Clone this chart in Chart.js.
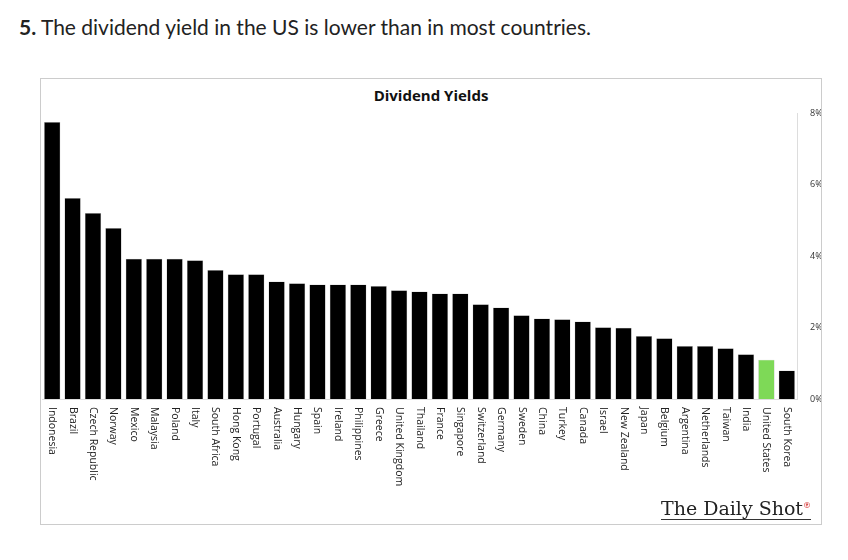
<!DOCTYPE html>
<html>
<head>
<meta charset="utf-8">
<script src="https://cdn.jsdelivr.net/npm/chart.js@4"></script>
<style>
  body { margin: 0; background: #fff; font-family: Lato, "Open Sans", sans-serif; }
  h2 { position: absolute; left: 19px; top: 14px; margin: 0; font-size: 21px; font-weight: 400; color: #222; }
  #box { position: absolute; left: 40px; top: 78px; width: 782px; height: 447px; border: 1px solid #ccc; box-sizing: border-box; }
  #title { position: absolute; left: 0; right: 0; top: 6px; text-align: center; font: bold 15px "Open Sans", sans-serif; color: #111; }
  #logo { position: absolute; right: 10px; bottom: 4px; font: 19px "DejaVu Serif", serif; color: #222; border-bottom: 1px solid #333; }
  #logo sup { color: #c00; font-size: 8px; }
</style>
</head>
<body>
<h2><b>5.</b> The dividend yield in the US is lower than in most countries.</h2>
<div id="box">
  <div id="title">Dividend Yields</div>
  <div style="position:absolute;left:1px;top:20px;width:779px;height:400px"><canvas id="c"></canvas></div>
  <div id="logo">The Daily Shot<sup>®</sup></div>
</div>
<script>
// Country dividend yields, %
const countries = ["Indonesia", "Brazil", "Czech Republic", "Norway", "Mexico", "Malaysia", "Poland", "Italy",
  "South Africa", "Hong Kong", "Portugal", "Australia", "Hungary", "Spain", "Ireland", "Philippines", "Greece",
  "United Kingdom", "Thailand", "France", "Singapore", "Switzerland", "Germany", "Sweden", "China", "Turkey",
  "Canada", "Israel", "New Zealand", "Japan", "Belgium", "Argentina", "Netherlands", "Taiwan", "India",
  "United States", "South Korea"];
const yields = [7.75, 5.62, 5.2, 4.78, 3.92, 3.92, 3.92, 3.88, 3.61, 3.49, 3.49, 3.29, 3.24, 3.2, 3.2, 3.2, 3.16,
  3.04, 3.01, 2.95, 2.95, 2.65, 2.56, 2.34, 2.25, 2.23, 2.17, 2.01, 1.99, 1.76, 1.7, 1.48, 1.48, 1.42, 1.25,
  1.1, 0.8];
const yTicks = [0, 2, 4, 6, 8];

// Draw x labels rotated clockwise so they read top-to-bottom, as in the original
const downLabels = {
  id: "downLabels",
  afterDraw(chart) {
    const x = chart.scales.x;
    const ctx = chart.ctx;
    ctx.save();
    ctx.font = "10.5px 'Open Sans', sans-serif";
    ctx.fillStyle = "#222";
    ctx.textBaseline = "middle";
    countries.forEach((name, i) => {
      ctx.save();
      ctx.translate(x.getPixelForTick(i), x.top + 8);
      ctx.rotate(Math.PI / 2);
      ctx.fillText(name, 0, 0);
      ctx.restore();
    });
    ctx.restore();
  }
};

new Chart(document.getElementById("c"), {
  type: "bar",
  data: {
    labels: countries,
    datasets: [{
      data: yields,
      backgroundColor: countries.map(c => c === "United States" ? "#7ed957" : "#000"),
      borderColor: "#bbb",
      borderWidth: 0.5,
      categoryPercentage: 1,
      barPercentage: 0.8
    }]
  },
  options: {
    responsive: true,
    maintainAspectRatio: false,
    animation: false,
    layout: { padding: { top: 14 } },
    scales: {
      x: {
        grid: { display: false },
        border: { color: "#ddd" },
        ticks: { display: false },
        afterFit(s) { s.height = 100; }
      },
      y: {
        position: "right",
        min: 0, max: 8,
        afterBuildTicks(s) { s.ticks = yTicks.map(v => ({ value: v })); },
        afterFit(s) { s.width = 24; },
        grid: { display: false },
        border: { color: "#ddd" },
        ticks: { callback: v => v + "%", font: { size: 9, family: "'Open Sans', sans-serif" }, color: "#333", padding: 5 }
      }
    },
    plugins: { legend: { display: false }, tooltip: { enabled: false } }
  },
  plugins: [downLabels]
});
</script>
</body>
</html>
